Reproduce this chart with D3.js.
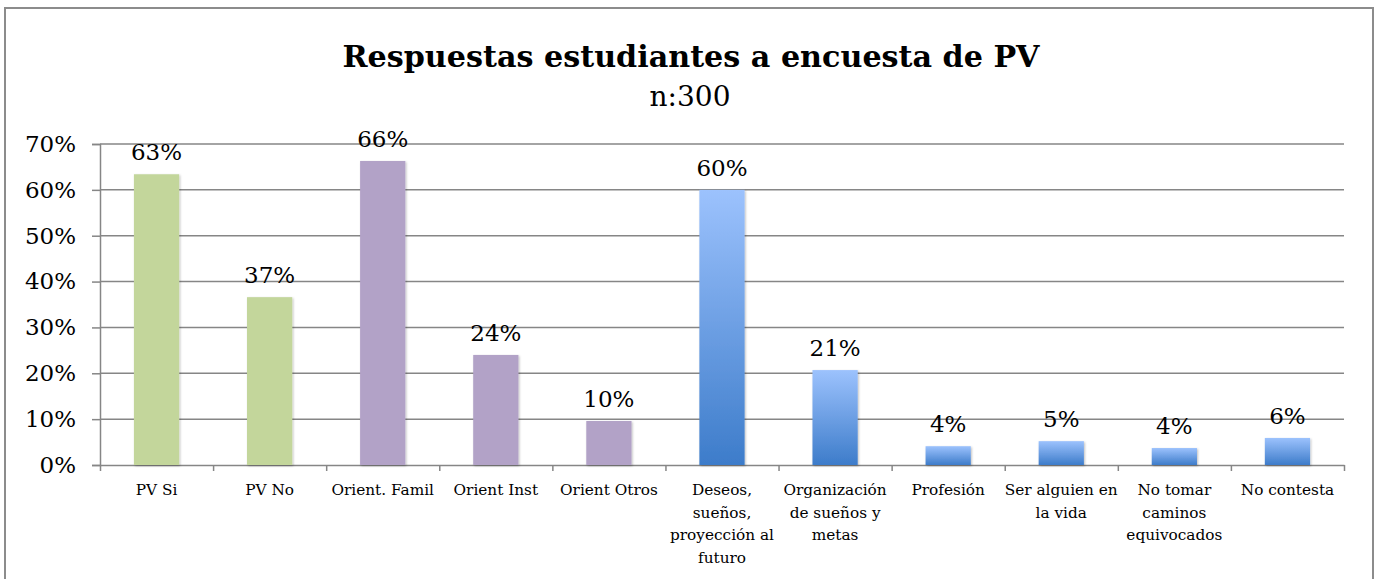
<!DOCTYPE html>
<html>
<head>
<meta charset="utf-8">
<script src="https://cdn.jsdelivr.net/npm/d3@7"></script>
<style>
  body { margin: 0; background: white; }
  text { font-family: "DejaVu Serif", "Liberation Serif", serif; }
</style>
</head>
<body>
<div id="canvas"></div>
<script>
// Data
var categories = ["PV Si", "PV No", "Orient. Famil", "Orient Inst", "Orient Otros",
  "Deseos,\nsueños,\nproyección al\nfuturo", "Organización\nde sueños y\nmetas", "Profesión",
  "Ser alguien en\nla vida", "No tomar\ncaminos\nequivocados", "No contesta"];
var values = [0.634, 0.366, 0.663, 0.240, 0.096, 0.600, 0.207, 0.041, 0.052, 0.037, 0.059];
var groups = ["green", "green", "purple", "purple", "purple", "blue", "blue", "blue", "blue", "blue", "blue"];
var yTicks = [0, 0.1, 0.2, 0.3, 0.4, 0.5, 0.6, 0.7];

var w = 1377, h = 579;
var margin = {top: 144, right: 33, bottom: 114, left: 100};

var svg = d3.select("#canvas")
    .append("svg")
    .attr("width", w)
    .attr("height", h);

var defs = svg.append("defs");
var grad = defs.append("linearGradient")
    .attr("id", "blueGrad")
    .attr("x1", 0).attr("y1", 0).attr("x2", 0).attr("y2", 1);
grad.append("stop").attr("offset", "0%").attr("stop-color", "#9cc2fd");
grad.append("stop").attr("offset", "100%").attr("stop-color", "#3d7cca");

var shadow = defs.append("filter").attr("id", "shadow")
    .attr("x", "-20%").attr("y", "-20%").attr("width", "140%").attr("height", "140%");
shadow.append("feDropShadow")
    .attr("dx", 1).attr("dy", 1).attr("stdDeviation", 1.2)
    .attr("flood-color", "#000").attr("flood-opacity", 0.25);

var fills = {green: "#c3d69b", purple: "#b2a2c7", blue: "url(#blueGrad)"};

// outer frame
svg.append("rect")
    .attr("x", 5).attr("y", 8)
    .attr("width", 1368).attr("height", 600)
    .attr("fill", "none")
    .attr("stroke", "#8c8c8c")
    .attr("stroke-width", 2);

// Scales
var x = d3.scaleBand()
    .domain(d3.range(categories.length))
    .range([margin.left, w - margin.right])
    .paddingInner(0.6)
    .paddingOuter(0.3);

var xEdges = d3.scaleLinear()
    .domain([0, categories.length])
    .range([margin.left, w - margin.right]);

var y = d3.scaleLinear()
    .domain([0, 0.7])
    .range([h - margin.bottom, margin.top]);

// Gridlines
svg.append("g")
    .selectAll("line")
    .data(yTicks.slice(1))
    .join("line")
    .attr("x1", margin.left)
    .attr("x2", w - margin.right)
    .attr("y1", d => y(d))
    .attr("y2", d => y(d))
    .attr("stroke", "#868686")
    .attr("stroke-width", 1.5);

// Y axis
var yAxis = svg.append("g")
    .attr("transform", `translate(${margin.left},0)`)
    .call(d3.axisLeft(y).tickValues(yTicks).tickFormat(d3.format(".0%")).tickSize(8).tickPadding(16));
yAxis.selectAll("text").style("font-size", "23px").attr("fill", "#000");
yAxis.selectAll("line").attr("stroke", "#868686").attr("stroke-width", 1.5);
yAxis.select(".domain").attr("stroke", "#868686").attr("stroke-width", 1.5);

// X axis (line + tick marks at category edges)
var xAxis = svg.append("g")
    .attr("transform", `translate(0,${h - margin.bottom})`)
    .call(d3.axisBottom(xEdges).tickValues(d3.range(categories.length + 1)).tickSize(6).tickSizeOuter(0).tickFormat(""));
xAxis.selectAll("line").attr("stroke", "#868686").attr("stroke-width", 1.5);
xAxis.select(".domain").attr("stroke", "#868686").attr("stroke-width", 1.5);

// Category labels
svg.append("g")
    .selectAll("text")
    .data(categories)
    .join("text")
    .attr("x", (d, i) => x(i) + x.bandwidth() / 2)
    .attr("y", h - margin.bottom + 30)
    .attr("text-anchor", "middle")
    .style("font-size", "15.3px")
    .attr("fill", "#000")
    .each(function(d) {
        var t = d3.select(this);
        d.split("\n").forEach((line, k) => {
            t.append("tspan")
                .attr("x", t.attr("x"))
                .attr("dy", k === 0 ? 0 : 22.5)
                .text(line);
        });
    });

// Bars
svg.append("g")
    .selectAll("rect")
    .data(values)
    .join("rect")
    .attr("x", (d, i) => x(i))
    .attr("y", d => y(d))
    .attr("width", x.bandwidth())
    .attr("height", d => y(0) - y(d))
    .attr("fill", (d, i) => fills[groups[i]])
    .attr("filter", "url(#shadow)");

// Value labels
svg.append("g")
    .selectAll("text")
    .data(values)
    .join("text")
    .attr("x", (d, i) => x(i) + x.bandwidth() / 2)
    .attr("y", d => y(d) - 14)
    .attr("text-anchor", "middle")
    .style("font-size", "23px")
    .attr("fill", "#000")
    .text(d => d3.format(".0%")(d));

// Titles
svg.append("text")
    .attr("x", 691)
    .attr("y", 67)
    .attr("text-anchor", "middle")
    .style("font-size", "30.2px")
    .style("font-weight", "bold")
    .text("Respuestas estudiantes a encuesta de PV");

svg.append("text")
    .attr("x", 690)
    .attr("y", 106)
    .attr("text-anchor", "middle")
    .style("font-size", "28px")
    .text("n:300");
</script>
</body>
</html>
